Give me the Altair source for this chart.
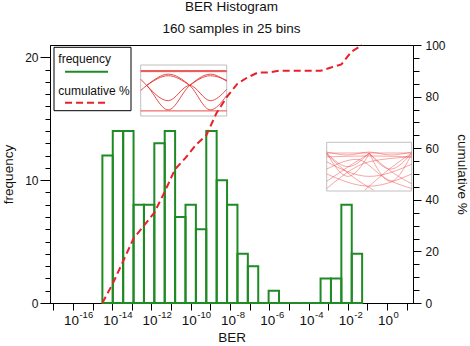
import altair as alt
import numpy as np
import pandas as pd

# ---------------- data ----------------
counts = [12, 14, 14, 8, 8, 13, 14, 7, 8, 6, 14, 10, 8, 4, 3, 0, 1, 0, 0, 0, 0, 2, 2, 8, 4]
log_ber_lo = -14.5      # log10 of smallest BER (left edge of first bin)
log_ber_hi = -1.27      # log10 of largest BER (right edge of last bin)
x_tick_exps = list(range(-17, 2))
x_label_exps = list(range(-16, 1, 2))
freq_ticks = list(range(0, 21))
cum_ticks = list(range(0, 101, 5))
legend_labels = ["frequency", "cumulative %"]

# small eye-diagram pictures (normalised 0..1 coordinates inside each inset)
eye1_curves = [
    [(0.0, 0.89), (1.0, 0.89)],
    [(0.0, 0.87), (1.0, 0.87)],
    [(0.0, 0.50), (0.07, 0.60), (0.32, 0.82), (0.57, 0.60), (0.81, 0.12), (1.0, 0.40)],
    [(0.0, 0.72), (0.07, 0.60), (0.32, 0.12), (0.57, 0.60), (0.81, 0.82), (1.0, 0.68)],
    [(0.07, 0.60), (0.32, 0.79), (0.57, 0.60)],
    [(0.07, 0.60), (0.32, 0.30), (0.57, 0.60), (0.81, 0.30), (1.0, 0.52)],
    [(0.57, 0.60), (0.81, 0.79), (1.0, 0.70)],
    [(0.0, 0.10), (1.0, 0.10)],
]
eye2_curves = [
    [(0.0, 0.78), (0.5, 0.78), (1.0, 0.78)],
    [(0.0, 0.80), (0.25, 0.74), (0.5, 0.80), (0.75, 0.74), (1.0, 0.80)],
    [(0.0, 0.78), (0.25, 0.50), (0.5, 0.78)],
    [(0.0, 0.78), (0.25, 0.30), (0.5, 0.76)],
    [(0.5, 0.78), (0.75, 0.45), (1.0, 0.78)],
    [(0.5, 0.78), (0.75, 0.20), (1.0, 0.76)],
    [(0.0, 0.75), (0.3, 0.30), (0.55, 0.02)],
    [(0.45, 0.02), (0.7, 0.40), (1.0, 0.78)],
    [(0.0, 0.20), (0.3, 0.55), (0.5, 0.77)],
    [(0.5, 0.77), (0.8, 0.35), (1.0, 0.15)],
    [(0.0, 0.35), (0.5, 0.10), (1.0, 0.35)],
    [(0.0, 0.60), (0.5, 0.30), (1.0, 0.55)],
    [(0.0, 0.45), (0.35, 0.65), (0.7, 0.25), (1.0, 0.05)],
    [(0.0, 0.05), (0.5, 0.60), (1.0, 0.70)],
    [(0.0, 0.70), (0.5, 0.72), (1.0, 0.70)],
]

# ---------------- derived tables ----------------
n_bins = len(counts)
edges = np.linspace(log_ber_lo, log_ber_hi, n_bins + 1)
hist_df = pd.DataFrame({"lo": edges[:-1], "hi": edges[1:], "count": counts, "zero": 0})
cum = np.cumsum(counts)
line_df = pd.DataFrame({"x": edges, "pct": np.concatenate([[0.0], 100.0 * cum / cum[-1]])})
lab_df = pd.DataFrame({"e": x_label_exps, "base": "10", "exp": [str(e) for e in x_label_exps]})
dummy = pd.DataFrame({"k": [0]})

W, H = 363, 258
GREEN = "#1f8b24"
RED = "#e8202a"
FONT = "Liberation Sans"
TXT = "#111111"

xscale = alt.Scale(domain=[-17.168, 1.321], nice=False, zero=False)
yscale = alt.Scale(domain=[0, 21], nice=False, zero=False)
pscale = alt.Scale(domain=[0, 100], nice=False, zero=False)


def inset(curves, box, color, width, opacity):
    left, right, top, bottom = box
    bw, bh = right - left, bottom - top
    xd = [-left / bw, (W - left) / bw]
    yd = [-(H - bottom) / bh, bottom / bh]
    rows = []
    for i, c in enumerate(curves):
        for u, w in c:
            rows.append({"c": i, "u": u, "w": w})
    df = pd.DataFrame(rows)
    frame = alt.Chart(dummy).mark_rect(fill="white", stroke="#b0b0b0", strokeWidth=0.8).encode(
        x=alt.value(left), x2=alt.value(right), y=alt.value(top), y2=alt.value(bottom))
    lines = alt.Chart(df).mark_line(interpolate="monotone", color=color,
                                    strokeWidth=width, opacity=opacity).encode(
        x=alt.X("u:Q", scale=alt.Scale(domain=xd, nice=False, zero=False), axis=None),
        y=alt.Y("w:Q", scale=alt.Scale(domain=yd, nice=False, zero=False), axis=None),
        detail="c:N")
    return [frame, lines]


inset1 = inset(eye1_curves, (90.7, 176.7, 20, 71), "#e52b2b", 1.0, 0.85)
inset2 = inset(eye2_curves, (276.7, 361.7, 97.3, 146), "#ee4444", 0.8, 0.6)

bars = alt.Chart(hist_df).mark_rect(fillOpacity=0, stroke=GREEN, strokeWidth=2).encode(
    x=alt.X("lo:Q", scale=xscale,
            axis=alt.Axis(values=x_tick_exps, labels=False, tickSize=7, title="BER",
                          titlePadding=20, titleFontSize=13.5)),
    x2="hi:Q",
    y=alt.Y("count:Q", scale=yscale,
            axis=alt.Axis(orient="left", values=freq_ticks,
                          tickSize={"expr": "datum.value % 10 === 0 ? 10 : 5"},
                          labelExpr="datum.value % 10 === 0 ? datum.label : ''",
                          labelPadding=2, labelFontSize=12, title="frequency",
                          titleFontSize=13.5, titlePadding=9)),
    y2="zero:Q",
)

cum_line = alt.Chart(line_df).mark_line(color=RED, strokeWidth=2, strokeDash=[7, 4]).encode(
    x=alt.X("x:Q", scale=xscale, axis=None),
    y=alt.Y("pct:Q", scale=pscale,
            axis=alt.Axis(orient="right", values=cum_ticks,
                          tickSize={"expr": "datum.value % 20 === 0 ? 8 : 6"},
                          labelExpr="datum.value % 20 === 0 ? datum.label : ''",
                          labelPadding=4, labelFontSize=12, title="cumulative %",
                          titleFontSize=13.5, titlePadding=9)),
)

lab10 = alt.Chart(lab_df).mark_text(align="center", baseline="alphabetic", fontSize=13.5,
                                    font=FONT, color=TXT, dx=-1.5).encode(
    x=alt.X("e:Q", scale=xscale, axis=None), y=alt.value(280), text="base:N")
labexp = alt.Chart(lab_df).mark_text(align="left", baseline="alphabetic", fontSize=9.5,
                                     font=FONT, color=TXT, dx=6.5).encode(
    x=alt.X("e:Q", scale=xscale, axis=None), y=alt.value(273), text="exp:N")

leg_box = alt.Chart(dummy).mark_rect(fill="white", stroke="black", strokeWidth=1).encode(
    x=alt.value(4), x2=alt.value(81), y=alt.value(2.3), y2=alt.value(65.7))
leg_t1 = alt.Chart(dummy).mark_text(align="left", baseline="alphabetic", fontSize=12,
                                    font=FONT, color=TXT).encode(
    x=alt.value(8.3), y=alt.value(18), text=alt.value(legend_labels[0]))
leg_l1 = alt.Chart(dummy).mark_rule(color=GREEN, strokeWidth=2).encode(
    x=alt.value(15), x2=alt.value(58), y=alt.value(26.7))
leg_t2 = alt.Chart(dummy).mark_text(align="left", baseline="alphabetic", fontSize=12,
                                    font=FONT, color=TXT).encode(
    x=alt.value(8.3), y=alt.value(50), text=alt.value(legend_labels[1]))
leg_l2 = alt.Chart(dummy).mark_rule(color=RED, strokeWidth=2, strokeDash=[7, 4]).encode(
    x=alt.value(15), x2=alt.value(58), y=alt.value(57.7))

chart = alt.layer(
    *inset1, *inset2, bars, cum_line, lab10, labexp,
    leg_box, leg_t1, leg_l1, leg_t2, leg_l2,
).resolve_scale(
    x="independent", y="independent"
).properties(
    width=W, height=H, autosize="none",
    padding={"left": 50, "top": 45, "right": 57, "bottom": 43},
    title=alt.TitleParams(
        text="BER Histogram", subtitle="160 samples in 25 bins",
        font=FONT, subtitleFont=FONT, fontSize=13.5, subtitleFontSize=13.5,
        fontWeight="normal", color=TXT, subtitleColor=TXT,
        anchor="middle", offset=4, subtitlePadding=8.5,
    ),
).configure_axis(
    labelFont=FONT, titleFont=FONT, labelColor=TXT, titleColor=TXT,
    domainColor="black", tickColor="black", titleFontWeight="normal", grid=False,
).configure_view(stroke="black", strokeWidth=1)

chart.save("out.html", embed_options={"renderer": "svg", "actions": False})
